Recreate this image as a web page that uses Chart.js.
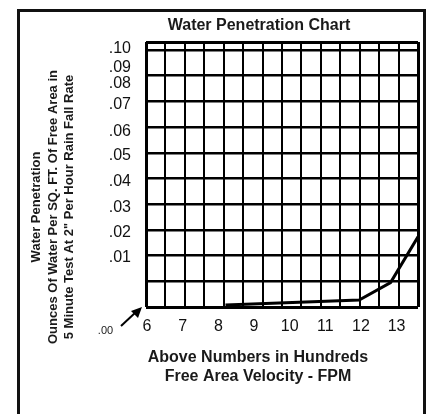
<!DOCTYPE html>
<html>
<head>
<meta charset="utf-8">
<title>Water Penetration Chart</title>
<script src="https://cdn.jsdelivr.net/npm/chart.js@4"></script>
<style>
  html, body { margin: 0; padding: 0; background: #fff; }
  canvas { display: block; }
</style>
</head>
<body>
<canvas id="waterChart" width="427" height="414"></canvas>
<script>
// free area velocity (hundreds of FPM) vs water penetration (oz / sq ft)
const velocity = [8.2, 11.95, 12.83, 13.6];
const penetration = [0.0008, 0.0027, 0.0095, 0.0273];

const xTicks = [6, 7, 8, 9, 10, 11, 12, 13];
const yTickLabels = ['.01', '.02', '.03', '.04', '.05', '.06', '.07', '.08', '.09', '.10'];
// the printed labels drift off the grid lines, so they sit at their own spots
const yTickAt = [0.0193, 0.0290, 0.0387, 0.0486, 0.0588, 0.0683, 0.0786, 0.0868, 0.0930, 0.1004];

const yTitleLines = ['Water Penetration', 'Ounces Of Water Per SQ. FT. Of Free Area in', '5 Minute Test At 2" Per Hour Rain Fall Rate'];
const xTitleLines = ['Above Numbers in Hundreds', 'Free Area Velocity - FPM'];

const xMin = 5.97, xMax = 13.6;
const yMin = 0, yMax = 0.1031;
const xCells = 14, yStep = 0.01;

const FONT = '"Liberation Sans", Arial, Helvetica, sans-serif';
Chart.defaults.font.family = FONT;
Chart.defaults.color = '#111';

// frame, titles, the .00 marker and its arrow
const decorPlugin = {
    id: 'decor',
    afterDraw(chart) {
        const c = chart.ctx;
        c.save();
        c.strokeStyle = '#111';
        c.lineWidth = 3;
        c.strokeRect(18.5, 10.5, 406, 420);

        c.fillStyle = '#1a1a1a';
        c.textAlign = 'center';
        c.textBaseline = 'alphabetic';
        c.font = 'bold 16px ' + FONT;
        c.fillText('Water Penetration Chart', 259, 30);
        c.fillText(xTitleLines[0], 258, 362);
        c.fillText(xTitleLines[1], 258, 381);

        c.font = 'bold 13px ' + FONT;
        [40, 57, 73].forEach((x, i) => {
            c.save();
            c.translate(x, 207);
            c.rotate(-Math.PI / 2);
            c.fillText(yTitleLines[i], 0, 0);
            c.restore();
        });

        c.font = '11px ' + FONT;
        c.fillText('.00', 105.5, 334);

        c.strokeStyle = '#000';
        c.lineWidth = 2;
        c.beginPath();
        c.moveTo(121, 326);
        c.lineTo(136, 312);
        c.stroke();
        c.fillStyle = '#000';
        c.beginPath();
        c.moveTo(142, 307);
        c.lineTo(131, 311);
        c.lineTo(138, 318);
        c.closePath();
        c.fill();
        c.restore();
    }
};

new Chart(document.getElementById('waterChart'), {
    type: 'line',
    data: {
        datasets: [{
            data: velocity.map((v, i) => ({ x: v, y: penetration[i] })),
            borderColor: '#000',
            borderWidth: 3,
            pointRadius: 0,
            tension: 0,
            fill: false
        }]
    },
    options: {
        responsive: false,
        animation: false,
        layout: { padding: { top: 42, left: 86, right: 9, bottom: 67 } },
        plugins: {
            legend: { display: false },
            tooltip: { enabled: false }
        },
        scales: {
            x: {
                type: 'linear', position: 'bottom', min: xMin, max: xMax,
                afterBuildTicks: axis => {
                    axis.ticks = [];
                    for (let k = 0; k <= xCells; k++) axis.ticks.push({ value: xMin + k * (xMax - xMin) / xCells });
                },
                afterFit: axis => { axis.height = 0; },
                ticks: { display: false },
                grid: { color: '#000', lineWidth: c => (c.index === 0 || c.index === xCells) ? 3 : 2, drawTicks: false },
                border: { display: false }
            },
            xl: {
                type: 'linear', position: 'bottom', min: xMin, max: xMax,
                afterBuildTicks: axis => { axis.ticks = xTicks.map(v => ({ value: v })); },
                afterFit: axis => { axis.height = 40; },
                grid: { display: false, drawTicks: false },
                border: { display: false },
                ticks: { padding: 10, font: { size: 16 }, color: '#111', autoSkip: false, maxRotation: 0, callback: v => v }
            },
            y: {
                type: 'linear', position: 'left', min: yMin, max: yMax,
                afterBuildTicks: axis => {
                    axis.ticks = [];
                    for (let k = 0; k <= 10; k++) axis.ticks.push({ value: k * yStep });
                    axis.ticks.push({ value: yMax });
                },
                afterFit: axis => { axis.width = 0; },
                ticks: { display: false },
                grid: { color: '#000', lineWidth: c => (c.index === 0 || c.tick.value === yMax) ? 3 : 2.5, drawTicks: false },
                border: { display: false }
            },
            yl: {
                type: 'linear', position: 'left', min: yMin, max: yMax,
                afterBuildTicks: axis => { axis.ticks = yTickAt.map(v => ({ value: v })); },
                afterFit: axis => { axis.width = 60; },
                grid: { display: false, drawTicks: false },
                border: { display: false },
                ticks: { padding: 15, font: { size: 16 }, color: '#111', autoSkip: false, callback: (v, i) => yTickLabels[i] }
            }
        }
    },
    plugins: [decorPlugin]
});
</script>
</body>
</html>
